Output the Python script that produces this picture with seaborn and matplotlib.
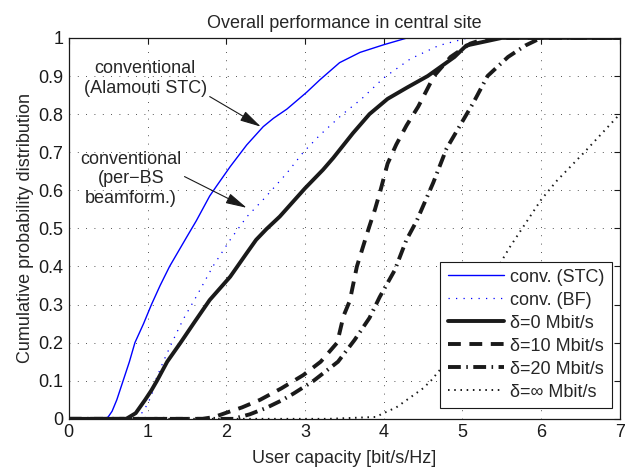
import matplotlib
matplotlib.use("Agg")
import matplotlib.pyplot as plt
import seaborn as sns
import pandas as pd

# ---- data ----
stc_x = [0, 0.45, 0.5, 0.55, 0.61, 0.69, 0.77, 0.84, 0.95, 1.05, 1.16, 1.28, 1.5, 1.62, 1.79, 1.88,
         2.05, 2.26, 2.47, 2.6, 2.77, 3.02, 3.19, 3.44, 3.7, 4.0, 4.3, 7]
stc_y = [0, 0, 0.005, 0.02, 0.05, 0.1, 0.15, 0.2, 0.25, 0.3, 0.35, 0.40, 0.478, 0.52, 0.585, 0.612,
         0.662, 0.719, 0.767, 0.789, 0.813, 0.857, 0.89, 0.935, 0.962, 0.982, 1.0, 1.0]

bf_x = [0, 0.85, 0.95, 1.05, 1.1, 1.2, 1.31, 1.45, 1.62, 1.83, 2.05, 2.26, 2.49, 2.77, 2.98,
        3.19, 3.48, 3.72, 4.0, 4.34, 4.7, 5.07, 7]
bf_y = [0, 0, 0.02, 0.06, 0.1, 0.15, 0.2, 0.26, 0.321, 0.40, 0.47, 0.53, 0.58, 0.645, 0.70,
        0.745, 0.80, 0.84, 0.895, 0.945, 0.98, 1.0, 1.0]

d0_x = [0, 0.73, 0.85, 0.97, 1.05, 1.12, 1.25, 1.42, 1.6, 1.79, 2.05, 2.26, 2.38, 2.51, 2.68, 3.0,
        3.23, 3.36, 3.61, 3.82, 4.05, 4.3, 4.56, 4.9, 5.05, 5.5, 7]
d0_y = [0, 0, 0.015, 0.05, 0.075, 0.1, 0.15, 0.2, 0.255, 0.312, 0.373, 0.435, 0.47, 0.498, 0.531, 0.605,
        0.654, 0.685, 0.75, 0.80, 0.84, 0.87, 0.9, 0.95, 0.98, 1.0, 1.0]

d10_x = [0, 1.7, 1.85, 2.0, 2.2, 2.43, 2.7, 2.98, 3.2, 3.41, 3.49, 3.57, 3.66, 3.72, 3.81, 3.89,
         3.96, 4.05, 4.16, 4.29, 4.44, 4.64, 4.85, 5.1, 5.32, 7]
d10_y = [0, 0, 0.005, 0.016, 0.03, 0.05, 0.08, 0.115, 0.15, 0.2, 0.27, 0.31, 0.4, 0.44, 0.5, 0.55,
         0.6, 0.67, 0.72, 0.77, 0.82, 0.9, 0.95, 0.985, 1.0, 1.0]

d20_x = [0, 2.09, 2.3, 2.5, 2.7, 2.86, 3.11, 3.42, 3.63, 3.82, 3.95, 4.14, 4.29, 4.42, 4.63, 4.8,
         4.97, 5.14, 5.32, 5.58, 5.8, 6.0, 7]
d20_y = [0, 0, 0.012, 0.028, 0.048, 0.067, 0.1, 0.15, 0.207, 0.265, 0.32, 0.39, 0.47, 0.52, 0.62, 0.71,
         0.77, 0.83, 0.9, 0.95, 0.98, 1.0, 1.0]

dinf_x = [0, 3.3, 3.9, 4.0, 4.16, 4.33, 4.5, 4.6, 4.8, 5.0, 5.2, 5.4, 5.6, 6.0, 6.2, 6.55, 7.0]
dinf_y = [0, 0, 0.005, 0.015, 0.03, 0.055, 0.08, 0.1, 0.15, 0.22, 0.31, 0.38, 0.45, 0.575, 0.625, 0.70, 0.80]

labels = ["conv. (STC)", "conv. (BF)", "δ=0 Mbit/s", "δ=10 Mbit/s", "δ=20 Mbit/s", "δ=∞ Mbit/s"]
x_ticks = [0, 1, 2, 3, 4, 5, 6, 7]
y_ticks = [0, 0.1, 0.2, 0.3, 0.4, 0.5, 0.6, 0.7, 0.8, 0.9, 1]
y_tick_labels = ["0", "0.1", "0.2", "0.3", "0.4", "0.5", "0.6", "0.7", "0.8", "0.9", "1"]

FS = 13

sns.set_theme(style="white")
plt.rcParams['font.family'] = ['Liberation Sans', 'DejaVu Sans']
plt.rcParams['font.size'] = FS

fig = plt.figure(figsize=(6.37, 4.68), dpi=100)
ax = fig.add_axes([0.108, 0.105, 0.865, 0.814])

series = [
    (stc_x, stc_y, dict(color="#0000ff", lw=1.0, linestyle="-")),
    (bf_x, bf_y, dict(color="#0000ff", lw=0.9, linestyle=(0, (1, 5)))),
    (d0_x, d0_y, dict(color="k", lw=2.8, linestyle="-")),
    (d10_x, d10_y, dict(color="k", lw=2.8, linestyle=(0, (3.3, 2.2)))),
    (d20_x, d20_y, dict(color="k", lw=2.8, linestyle=(0, (3.3, 1.4, 0.4, 1.4)))),
    (dinf_x, dinf_y, dict(color="k", lw=1.4, linestyle=(0, (0.8, 2.4)))),
]
for (xs, ys, st), lab in zip(series, labels):
    df = pd.DataFrame({"x": xs, "y": ys})
    sns.lineplot(data=df, x="x", y="y", ax=ax, label=lab, sort=False, estimator=None,
                 solid_joinstyle="round", **st)

ax.set_xlim(0, 7)
ax.set_ylim(0, 1)
ax.set_xticks(x_ticks)
ax.set_xticklabels([str(t) for t in x_ticks])
ax.set_yticks(y_ticks)
ax.set_yticklabels(y_tick_labels)
ax.grid(True, color="k", lw=0.6, linestyle=(0, (1, 9)))
ax.tick_params(direction="in", length=4, width=0.8, top=True, right=True, colors="k",
               labelsize=FS, pad=4)
for s in ax.spines.values():
    s.set_color("k")
    s.set_linewidth(0.9)

ax.set_title("Overall performance in central site", fontsize=FS, pad=7)
ax.set_xlabel("User capacity [bit/s/Hz]", fontsize=FS, labelpad=6)
ax.set_ylabel("Cumulative probability distribution", fontsize=FS, labelpad=3)

arrow = dict(arrowstyle="-|>,head_length=1.0,head_width=0.25", color="k", lw=0.8,
             shrinkA=0, shrinkB=0)
ax.annotate("", xy=(2.44, 0.767), xytext=(1.79, 0.846), arrowprops=arrow)
ax.text(0.97, 0.893, "conventional\n(Alamouti STC)", ha="center", va="center",
        fontsize=FS, linespacing=1.2)
ax.annotate("", xy=(2.26, 0.554), xytext=(1.47, 0.636), arrowprops=arrow)
ax.text(0.79, 0.630, "conventional\n(per−BS\nbeamform.)", ha="center", va="center",
        fontsize=FS, linespacing=1.2)

leg = ax.legend(loc="lower right", bbox_to_anchor=(0.985, 0.029), frameon=True,
                fancybox=False, edgecolor="k", framealpha=1, handlelength=3.1,
                borderpad=0.4, labelspacing=0.33, handletextpad=0.35, fontsize=FS,
                borderaxespad=0)
leg.get_frame().set_linewidth(0.8)

fig.savefig("out.png", dpi=100)
